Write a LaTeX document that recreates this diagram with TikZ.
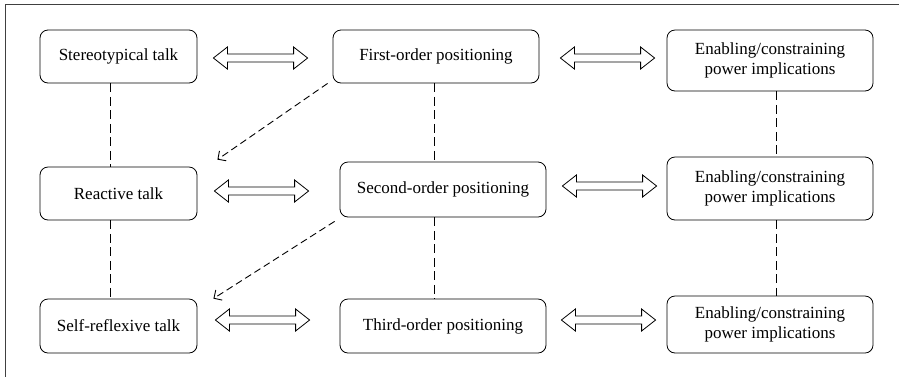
\documentclass[tikz,border=0pt]{standalone}
\usepackage{fontspec}
\setmainfont{Liberation Serif}
\usetikzlibrary{positioning,arrows.meta,calc}

\begin{document}
\begin{tikzpicture}[x=1pt,y=-1pt, every node/.style={font=\fontsize{17}{20}\selectfont,align=center},
  box/.style={draw,line width=0.8pt,rounded corners=8pt,minimum width=206pt,inner sep=0pt},
  talk/.style={box,minimum width=157pt},
  dbl/.style={line width=0.8pt,fill=white,to path={let \p1=(\tikztostart),\p2=(\tikztotarget) in
    (\x1,\y1) -- ++(14pt,11pt) -- ++(0,-7pt) -- (\x2-14pt,\y1+4pt) -- ++(0,7pt) -- (\x2,\y1)
    -- ++(-14pt,-11pt) -- ++(0,7pt) -- (\x1+14pt,\y1-4pt) -- ++(0,-7pt) -- cycle}},
  vdash/.style={line width=0.8pt,dash pattern=on 9pt off 4.5pt},
  ddash/.style={line width=0.9pt,dash pattern=on 7pt off 4pt,-{Straight Barb[length=6pt,width=12pt]}}]
\useasboundingbox (0,0) rectangle (899,376);
\draw[line width=0.9pt,black!75] (5,4.5) rectangle (910,390);
% left column
\node[talk,minimum height=53pt] (st) at (118.5,56.5) {Stereotypical talk};
\node[talk,minimum height=53pt] (re) at (118.5,193.5) {Reactive talk};
\node[talk,minimum height=54pt] (sr) at (118.5,326) {Self-reflexive talk};
% middle column
\node[box,minimum height=53pt] (fo) at (436,56.5) {First-order positioning};
\node[box,minimum height=55pt] (so) at (443,189.5) {Second-order positioning};
\node[box,minimum height=54pt] (to) at (443,326) {Third-order positioning};
% right column
\node[box,minimum height=61pt] (e1) at (770,60.5) {Enabling/constraining\\power implications};
\node[box,minimum height=63pt] (e2) at (770,188.5) {Enabling/constraining\\power implications};
\node[box,minimum height=57pt] (e3) at (770,324.5) {Enabling/constraining\\power implications};
% double arrows
\draw[dbl] ([shift={(16pt,-1.5pt)}]st.east) to ([shift={(-25pt,-1.5pt)}]st.east -| fo.west);
\draw[dbl] ([shift={(21pt,-1.5pt)}]fo.east) to ([shift={(-12pt,-1.5pt)}]fo.east -| e1.west);
\draw[dbl] ([shift={(17pt,2.5pt)}]re.east) to ([shift={(-31pt,2.5pt)}]re.east -| so.west);
\draw[dbl] ([shift={(16pt,3.5pt)}]so.east) to ([shift={(-10pt,3.5pt)}]so.east -| e2.west);
\draw[dbl] ([shift={(18pt,6pt)}]sr.east) to ([shift={(-30pt,6pt)}]sr.east -| to.west);
\draw[dbl] ([shift={(15pt,6pt)}]to.east) to ([shift={(-11pt,6pt)}]to.east -| e3.west);
% dashed links
\draw[vdash] ([xshift=-8.5pt]st.south) -- ([xshift=-8.5pt]st.south |- re.north);
\draw[vdash] ([xshift=-8.5pt]re.south) -- ([xshift=-8.5pt]re.south |- sr.north);
\draw[vdash] ([xshift=-2pt]fo.south) -- ([xshift=-2pt]fo.south |- so.north);
\draw[vdash] ([xshift=-9pt]so.south) -- ([xshift=-9pt]so.south |- to.north);
\draw[vdash] ([xshift=6pt]e1.south) -- ([xshift=6pt]e1.south |- e2.north);
\draw[vdash] ([xshift=6pt]e2.south) -- ([xshift=6pt]e2.south |- e3.north);
\draw[ddash] ([xshift=-5pt]fo.south west) -- ([shift={(20pt,7pt)}]re.north east);
\draw[ddash] ([shift={(-5pt,-4pt)}]so.south west) -- ([xshift=16pt]sr.north east);
\end{tikzpicture}
\end{document}
